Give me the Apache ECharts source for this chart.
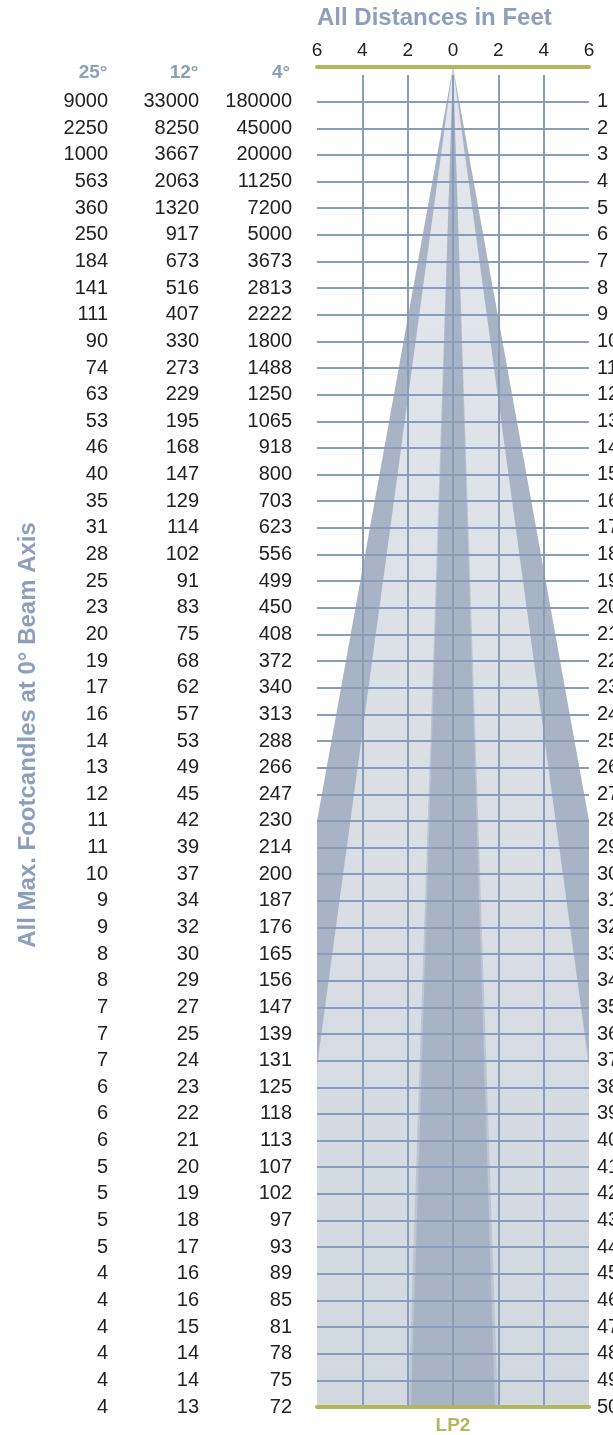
<!DOCTYPE html>
<html><head><meta charset="utf-8">
<script src="https://cdn.jsdelivr.net/npm/echarts@6/dist/echarts.min.js"></script>
<style>html,body{margin:0;padding:0;background:#fff;overflow:hidden}#c{width:613px;height:1435px}</style>
</head><body><div id="c"></div>
<script>
// ---- data ----
const distances = [1,2,3,4,5,6,7,8,9,10,11,12,13,14,15,16,17,18,19,20,21,22,23,24,25,26,27,28,29,30,31,32,33,34,35,36,37,38,39,40,41,42,43,44,45,46,47,48,49,50];
const columnNames = ['25°', '12°', '4°'];
const fc25 = [9000,2250,1000,563,360,250,184,141,111,90,74,63,53,46,40,35,31,28,25,23,20,19,17,16,14,13,12,11,11,10,9,9,8,8,7,7,7,6,6,6,5,5,5,5,4,4,4,4,4,4];
const fc12 = [33000,8250,3667,2063,1320,917,673,516,407,330,273,229,195,168,147,129,114,102,91,83,75,68,62,57,53,49,45,42,39,37,34,32,30,29,27,25,24,23,22,21,20,19,18,17,16,16,15,14,14,13];
const fc4 = [180000,45000,20000,11250,7200,5000,3673,2813,2222,1800,1488,1250,1065,918,800,703,623,556,499,450,408,372,340,313,288,266,247,230,214,200,187,176,165,156,147,139,131,125,118,113,107,102,97,93,89,85,81,78,75,72];
// beam outlines: [half-width ft, distance ft]
const beamOuter = [[0,-0.3],[6,28],[6,50]];
const beamField = [[0,-0.3],[6,37.2],[6,50]];
const beamSpotEdge = [[0,-0.3],[1.98,50]];
const beamSpot = [[0,-0.3],[1.85,50]];
const titleText = 'All Distances in Feet';
const yTitleText = 'All Max. Footcandles at 0° Beam Axis';
const lampName = 'LP2';

// ---- style ----
const FONT = '"Liberation Sans", Arial, sans-serif';
const gridColor = '#8a9db8';
const olive = '#b2b65f';
const blueGray = '#8d9fbb';
const dark = '#a8b4c6';

const chart = echarts.init(document.getElementById('c'), null, {renderer:'canvas'});

function beamSeries(outline, fill, z2) {
  return {
    type:'custom', coordinateSystem:'cartesian2d', xAxisIndex:0, yAxisIndex:0,
    z:-1, silent:true, clip:false, data:[[0,0]],
    renderItem: function(params, api) {
      const right = outline.map(p => api.coord([p[0], p[1]]));
      const left = outline.slice().reverse().map(p => api.coord([-p[0], p[1]]));
      return {type:'polygon', z2:z2, shape:{points:right.concat(left)}, style:{fill:fill}};
    }
  };
}

const tableCols = [fc25, fc12, fc4];
const tableOffsets = [201, 110, 17];
const commonY = {type:'value', inverse:true, min:0, max:50, interval:1};

const yAxes = [Object.assign({}, commonY, {
  position:'right',
  axisLine:{show:false}, axisTick:{show:false},
  axisLabel:{margin:8, color:'#222', fontSize:20, fontFamily:FONT,
    formatter: v => v >= 1 ? String(distances[v-1]) : ''},
  splitLine:{show:true, showMinLine:false, showMaxLine:false, lineStyle:{color:gridColor, width:2}}
})];
tableCols.forEach((col, i) => {
  yAxes.push(Object.assign({}, commonY, {
    position:'left', offset:tableOffsets[i],
    axisLine:{show:false}, axisTick:{show:false}, splitLine:{show:false},
    axisLabel:{margin:8, color:'#222', fontSize:20, fontFamily:FONT,
      formatter: v => v >= 1 ? String(col[v-1]) : ''}
  }));
});

const headerX = [93, 184, 281];

chart.setOption({
  animation:false,
  backgroundColor:'#fff',
  title:{text:titleText, left:317, top:6, padding:0,
    textStyle:{fontSize:24, fontWeight:'bold', color:blueGray, fontFamily:FONT}},
  grid:{left:317, right:24, top:75, bottom:28, containLabel:false, outerBoundsMode:'none'},
  xAxis:[{
    type:'value', position:'top', min:-6, max:6, interval:2, offset:8,
    axisLine:{show:true, onZero:false, lineStyle:{color:olive, width:4}},
    axisTick:{show:false},
    axisLabel:{formatter: v => String(Math.abs(v)), fontSize:19, color:'#222', margin:7, fontFamily:FONT},
    splitLine:{show:true, showMinLine:false, showMaxLine:false, lineStyle:{color:gridColor, width:2}}
  },{
    type:'value', position:'bottom', min:-6, max:6, interval:2,
    axisLine:{show:true, onZero:false, lineStyle:{color:olive, width:4}},
    axisTick:{show:false}, axisLabel:{show:false}, splitLine:{show:false},
    name:lampName, nameLocation:'middle', nameGap:9,
    nameTextStyle:{fontSize:19, fontWeight:'bold', color:olive, fontFamily:FONT}
  }],
  yAxis:yAxes,
  graphic:[
    ...columnNames.map((n, i) => ({type:'text', x:headerX[i], y:73, silent:true,
      style:{text:n, fill:blueGray, font:'bold 19px ' + FONT, align:'center', verticalAlign:'middle',
        textAlign:'center', textVerticalAlign:'middle'}})),
    {type:'text', x:28, y:735, rotation:Math.PI/2, silent:true,
      style:{text:yTitleText, fill:blueGray, font:'bold 24px ' + FONT, align:'center', verticalAlign:'middle',
        textAlign:'center', textVerticalAlign:'middle'}}
  ],
  series:[
    beamSeries(beamOuter, dark, 1),
    beamSeries(beamField, {type:'linear', x:0, y:0, x2:0, y2:1,
      colorStops:[{offset:0, color:'#e3e7ed'}, {offset:1, color:'#d2d8e0'}]}, 2),
    beamSeries(beamSpotEdge, '#bcc5d2', 3),
    beamSeries(beamSpot, dark, 4)
  ]
});
</script></body></html>
